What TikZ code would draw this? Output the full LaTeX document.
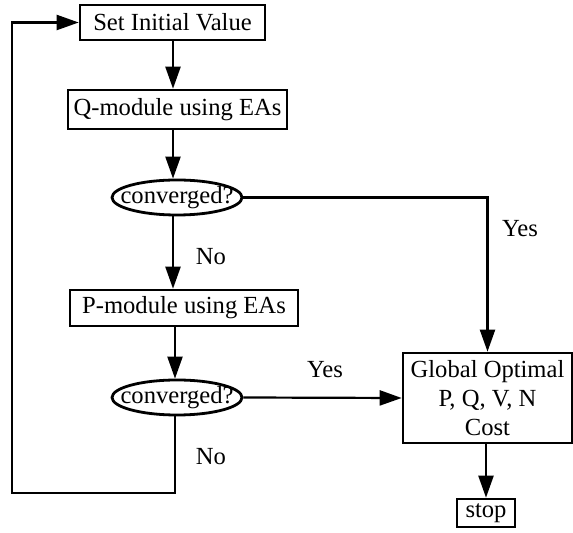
\documentclass[tikz,border=0pt]{standalone}
\usepackage{fontspec}
\setmainfont{Liberation Serif}
\usetikzlibrary{arrows.meta, shapes.geometric}

\begin{document}
\begin{tikzpicture}[
      x=0.5pt, y=-0.5pt,
      font=\fontsize{12.3}{14.5}\selectfont,
      block/.style={draw, line width=1.3pt, align=center, inner sep=1pt},
      test/.style={draw, ellipse, line width=1.4pt, inner xsep=-6pt, inner ysep=0pt,
        minimum width=65pt, minimum height=17.5pt},
      arrow/.style={-{Triangle[length=11pt, width=7.5pt]}, line width=1.1pt},
      lab/.style={inner sep=0pt}
    ]
    \useasboundingbox (0,0) rectangle (573,533);
    \node[block, minimum width=92.5pt, minimum height=17.5pt] at (172.5,22.5) (init) {Set Initial Value};
    \node[block, minimum width=109.5pt, minimum height=19.5pt] at (177.5,109.5) (qmod) {Q-module using EAs};
    \node[test] at (177,197.5) (conv1) {converged?};
    \node[block, minimum width=114pt, minimum height=18pt] at (184,308) (pmod) {P-module using EAs};
    \node[test] at (177,397.5) (conv2) {converged?};
    \node[block, minimum width=84.5pt, minimum height=45pt] at (487.5,398) (glob) {Global Optimal\\P, Q, V, N\\Cost};
    \node[block, minimum width=29pt, minimum height=14pt] at (486,513) (stop) {stop};
    \coordinate (loopbot) at (12,493);

    \node[lab] at (520,229) (yes1) {Yes};
    \node[lab] at (211,257) (no1) {No};
    \node[lab] at (325,370) (yes2) {Yes};
    \node[lab] at (211,457) (no2) {No};

    \draw[arrow] (init.south -| 173,0) -- (qmod.north -| 173,0);
    \draw[arrow] (qmod.south -| 173,0) -- (conv1.north -| 173,0);
    \draw[arrow] (conv1.south -| 173,0) -- (pmod.north -| 173,0);
    \draw[arrow] (pmod.south -| 175,0) -- (conv2.north -| 175,0);
    \draw[arrow] (conv1.east) -| (glob.north);
    \draw[arrow] (conv2.east) -- (glob.west);
    \draw[arrow] (glob.south -| stop) -- (stop.north);
    \draw[arrow] (conv2.south -| 175,0) |- (loopbot) |- (init.west);
  \end{tikzpicture}
\end{document}
